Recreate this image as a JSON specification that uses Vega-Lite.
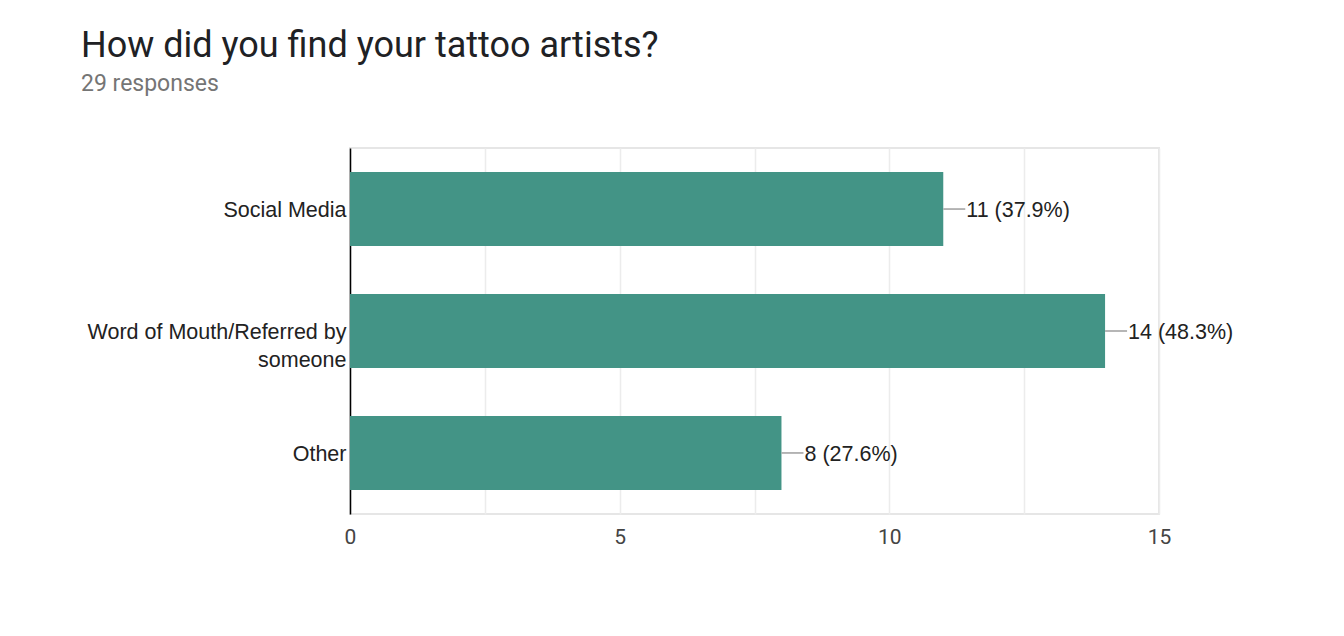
{
  "$schema": "https://vega.github.io/schema/vega-lite/v6.json",
  "autosize": {"type": "none"},
  "width": 809,
  "height": 366,
  "padding": {"left": 350, "top": 148, "right": 185, "bottom": 122},
  "background": "white",
  "title": {
    "text": "How did you find your tattoo artists?",
    "subtitle": "29 responses",
    "anchor": "start",
    "frame": "group",
    "dx": -269,
    "offset": 51,
    "font": "Roboto",
    "fontSize": 36,
    "fontWeight": "normal",
    "color": "#202124",
    "subtitleFont": "Roboto",
    "subtitleFontSize": 23,
    "subtitleColor": "#757575",
    "subtitlePadding": 8
  },
  "config": {
    "view": {"stroke": "#e6e6e6", "strokeWidth": 2},
    "font": "Liberation Sans"
  },
  "data": {
    "values": [
      {"source": "Social Media", "count": 11, "label": "11 (37.9%)"},
      {"source": "Word of Mouth/Referred by someone", "count": 14, "label": "14 (48.3%)"},
      {"source": "Other", "count": 8, "label": "8 (27.6%)"}
    ]
  },
  "encoding": {
    "y": {
      "field": "source",
      "type": "nominal",
      "sort": null,
      "scale": {"paddingInner": 0.393, "paddingOuter": 0.197},
      "axis": {
        "title": null,
        "domainColor": "#000000",
        "domainWidth": 1.5,
        "ticks": false,
        "labelPadding": 4,
        "labelOffset": 2,
        "labelFont": "Liberation Sans",
        "labelFontSize": 21.5,
        "labelColor": "#222222",
        "labelLineHeight": 28,
        "labelLimit": 400,
        "labelExpr": "datum.value == 'Word of Mouth/Referred by someone' ? ['Word of Mouth/Referred by', 'someone'] : datum.value"
      }
    }
  },
  "layer": [
    {
      "mark": {"type": "bar", "color": "#439486"},
      "encoding": {
        "x": {
          "field": "count",
          "type": "quantitative",
          "scale": {"domain": [0, 15], "nice": false},
          "axis": {
            "title": null,
            "values": [0, 2.5, 5, 7.5, 10, 12.5, 15],
            "labelExpr": "datum.value % 5 == 0 ? datum.label : ''",
            "labelFlush": false,
            "domain": false,
            "ticks": false,
            "gridColor": "#ececec",
            "gridWidth": 1.5,
            "labelPadding": 12,
            "labelFont": "Roboto",
            "labelFontSize": 21,
            "labelColor": "#444444"
          }
        }
      }
    },
    {
      "mark": {"type": "rule", "color": "#9e9e9e", "strokeWidth": 1.5, "x2Offset": 22},
      "encoding": {
        "x": {"field": "count", "type": "quantitative"},
        "x2": {"field": "count"}
      }
    },
    {
      "mark": {"type": "text", "align": "left", "baseline": "middle", "dx": 23, "dy": 2, "font": "Liberation Sans", "fontSize": 21.5, "color": "#222222"},
      "encoding": {
        "x": {"field": "count", "type": "quantitative"},
        "text": {"field": "label"}
      }
    }
  ]
}
